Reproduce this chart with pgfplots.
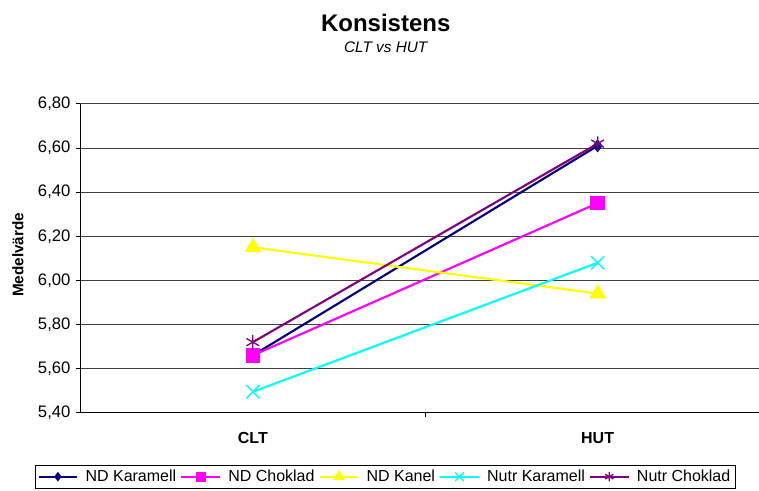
\documentclass[border=0pt]{standalone}
\usepackage{pgfplots}
\pgfplotsset{compat=1.18}
\usepackage{fontspec}
\setmainfont{Liberation Sans}
\usetikzlibrary{plotmarks}
\definecolor{ndkar}{HTML}{000080}
\definecolor{ndcho}{HTML}{FF00FF}
\definecolor{ndkan}{HTML}{FFFF00}
\definecolor{nukar}{HTML}{00FFFF}
\definecolor{nucho}{HTML}{800080}
\begin{document}
\begin{tikzpicture}
\begin{scope}[shift={(-60.375pt,309.75pt)}, x=0.75pt, y=-0.75pt]
  \useasboundingbox (0,0) rectangle (759,491);
  \node[anchor=base, font=\fontsize{18}{20}\selectfont\bfseries, inner sep=0] at (386,32) {Konsistens};
  \node[anchor=base, font=\fontsize{11.5}{13}\selectfont\itshape, inner sep=0] at (386,53) {CLT vs HUT};
  \node[rotate=90, font=\fontsize{11.5}{13}\selectfont\bfseries, inner sep=0] at (18,255) {Medelvärde};
\end{scope}
\begin{axis}[
  at={(0,0)}, anchor=south west,
  scale only axis, width=508.875pt, height=231.75pt,
  xmin=-0.5, xmax=1.4667, ymin=5.4, ymax=6.8,
  axis x line*=bottom, axis y line*=left,
  axis line style={black, line width=0.75pt},
  xtick={0,1}, xticklabels={CLT,HUT},
  x tick label style={font=\fontsize{12}{14}\selectfont\bfseries, yshift=-8pt},
  major tick length=3pt, tick align=outside,
  xtick style={draw=none},
  extra x ticks={0.5}, extra x tick labels={},
  extra x tick style={grid=none, xtick style={draw=black, line width=0.75pt}},
  ytick={5.4,5.6,...,6.81},
  ytick style={black, line width=0.75pt},
  ymajorgrids, grid style={black!75, line width=0.75pt},
  y tick label style={font=\fontsize{12.5}{14}\selectfont, xshift=-1pt},
  yticklabel={\pgfmathprintnumber[fixed, fixed zerofill, precision=2, use comma, assume math mode=true]{\tick}},
  legend columns=5,
  legend style={at={(0.4495,-0.2071)}, anchor=center, draw=black, line width=0.6pt,
    font=\fontsize{12}{14}\selectfont, inner sep=1.5pt,
    /tikz/every even column/.append style={column sep=1pt},
    /tikz/every odd column/.append style={column sep=3.5pt}},
  legend image code/.code={\draw[mark repeat=2, mark phase=2, every mark/.append style={scale=0.65}] plot coordinates {(0pt,0pt) (14.5pt,0pt) (29pt,0pt)};},
  every axis plot/.append style={line width=1.6pt, mark options={solid}},
  clip=false
]
\addplot[color=ndkar, mark=diamond*, mark size=3.6pt, mark options={fill=ndkar}] coordinates {(0,5.66) (1,6.61)};
\addlegendentry{ND Karamell}
\addplot[color=ndcho, mark=square*, mark size=4.6pt, mark options={fill=ndcho}] coordinates {(0,5.66) (1,6.35)};
\addlegendentry{ND Choklad}
\addplot[color=ndkan, mark=triangle*, mark size=5.6pt, mark options={fill=ndkan}] coordinates {(0,6.15) (1,5.94)};
\addlegendentry{ND Kanel}
\addplot[color=nukar, mark=x, mark size=7pt, mark options={line width=1pt}] coordinates {(0,5.495) (1,6.08)};
\addlegendentry{Nutr Karamell}
\addplot[color=nucho, mark=asterisk, mark size=5.5pt, mark options={line width=1pt}] coordinates {(0,5.72) (1,6.62)};
\addlegendentry{Nutr Choklad}
\end{axis}
\end{tikzpicture}
\end{document}
